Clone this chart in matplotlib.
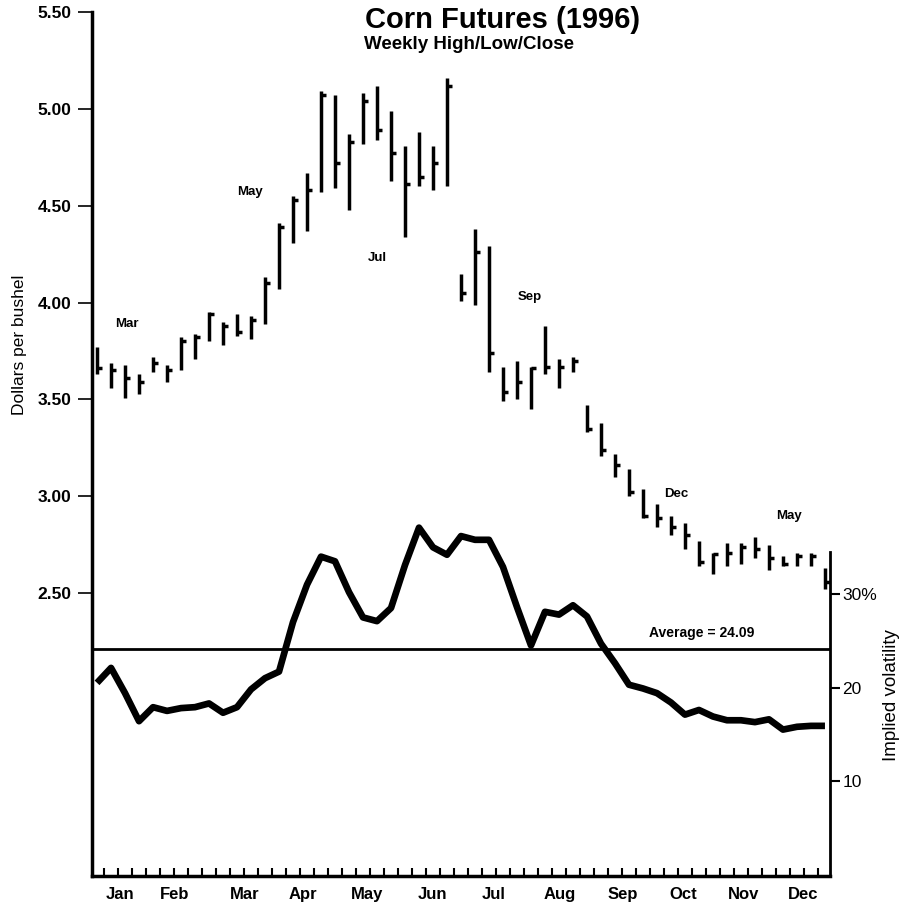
import numpy as np
import matplotlib
matplotlib.use("Agg")
import matplotlib.pyplot as plt

plt.rcParams['font.family'] = ['Liberation Sans', 'DejaVu Sans']

"""
Data
"""
# weekly high / low / close, dollars per bushel (53 weeks of 1996)
high = [3.77, 3.69, 3.68, 3.63, 3.72, 3.68, 3.82, 3.84, 3.95, 3.90,
        3.94, 3.93, 4.13, 4.41, 4.55, 4.67, 5.09, 5.07, 4.87, 5.08,
        5.12, 4.99, 4.81, 4.88, 4.81, 5.16, 4.15, 4.38, 4.29, 3.67,
        3.70, 3.67, 3.88, 3.71, 3.72, 3.47, 3.38, 3.22, 3.14, 3.04,
        2.96, 2.90, 2.86, 2.77, 2.71, 2.76, 2.76, 2.79, 2.75, 2.69,
        2.71, 2.71, 2.63]
low = [3.63, 3.56, 3.51, 3.53, 3.64, 3.59, 3.65, 3.71, 3.80, 3.78,
       3.83, 3.81, 3.89, 4.07, 4.31, 4.37, 4.57, 4.59, 4.48, 4.82,
       4.84, 4.63, 4.34, 4.60, 4.58, 4.60, 4.01, 3.99, 3.64, 3.49,
       3.50, 3.45, 3.63, 3.56, 3.64, 3.33, 3.21, 3.10, 3.00, 2.89,
       2.84, 2.80, 2.73, 2.64, 2.60, 2.64, 2.65, 2.68, 2.62, 2.64,
       2.64, 2.64, 2.52]
close = [3.66, 3.65, 3.61, 3.59, 3.69, 3.65, 3.80, 3.82, 3.94, 3.88,
         3.85, 3.91, 4.10, 4.39, 4.53, 4.58, 5.07, 4.72, 4.83, 5.04,
         4.89, 4.77, 4.61, 4.65, 4.72, 5.12, 4.05, 4.26, 3.74, 3.54,
         3.59, 3.66, 3.67, 3.67, 3.70, 3.35, 3.24, 3.16, 3.02, 2.90,
         2.89, 2.84, 2.80, 2.66, 2.70, 2.71, 2.74, 2.73, 2.68, 2.65,
         2.69, 2.69, 2.56]

# implied volatility, percent
vol = [20.5, 22.1, 19.4, 16.4, 17.9, 17.5, 17.8, 17.9, 18.3, 17.3,
       17.9, 19.8, 21.0, 21.7, 27.0, 31.0, 34.0, 33.5, 30.2, 27.5,
       27.1, 28.5, 33.1, 37.1, 35.0, 34.2, 36.2, 35.8, 35.8, 32.9,
       28.6, 24.5, 28.1, 27.8, 28.8, 27.6, 24.7, 22.6, 20.3, 19.9,
       19.4, 18.4, 17.1, 17.6, 16.9, 16.5, 16.5, 16.3, 16.6, 15.5,
       15.8, 15.9, 15.9]
vol_avg = 24.09

months = ["Jan", "Feb", "Mar", "Apr", "May", "Jun",
          "Jul", "Aug", "Sep", "Oct", "Nov", "Dec"]
month_pos = [1.64, 5.57, 10.57, 14.71, 19.29, 23.93,
             28.36, 33.07, 37.57, 41.86, 46.21, 50.43]

# contract month labels (week, price)
contracts = ["Mar", "May", "Jul", "Sep", "Dec", "May"]
contract_week = [2.1, 10.9, 20.0, 30.9, 41.4, 49.4]
contract_price = [3.89, 4.57, 4.23, 4.03, 3.01, 2.90]

weeks = np.arange(len(high))

"""
Plots
"""
fig = plt.figure(figsize=(9.01, 9.11), dpi=100)
ax = fig.add_axes([0.1021, 0.0384, 0.8191, 0.9484])
ax2 = ax.twinx()

ax.vlines(weeks, low, high, color="black", lw=2.5)
ax.hlines(close, weeks, weeks + 0.38, color="black", lw=2.5)

ax.set_xlim(-0.36, 52.36)
ax.set_ylim(1.04, 5.5)
ax.set_yticks([2.5, 3.0, 3.5, 4.0, 4.5, 5.0, 5.5])
ax.set_yticklabels(["2.50", "3.00", "3.50", "4.00", "4.50", "5.00", "5.50"],
                   fontsize=12.5, fontweight="bold")
ax.tick_params(axis="y", direction="out", length=10, width=1.2, pad=5)
ax.set_ylabel("Dollars per bushel", fontsize=12.5)
ax.yaxis.set_label_coords(-0.088, 0.615)

ax.set_xticks(weeks[:-1] + 0.5)
ax.set_xticks(month_pos, minor=True)
ax.set_xticklabels([])
ax.set_xticklabels(months, minor=True, fontsize=12, fontweight="bold")
ax.tick_params(axis="x", which="major", direction="in", length=6, width=1.5)
ax.tick_params(axis="x", which="minor", length=0, pad=8)

for s in ["top", "right"]:
    ax.spines[s].set_visible(False)
ax.spines["left"].set_linewidth(2.5)
ax.spines["bottom"].set_linewidth(2.5)

for t, w, p in zip(contracts, contract_week, contract_price):
    ax.text(w, p, t, fontsize=9.5, fontweight="bold", ha="center", va="center")

# volatility
ax2.plot(weeks, vol, color="black", lw=4.8, solid_joinstyle="round",
         solid_capstyle="butt")
ax2.axhline(vol_avg, color="black", lw=2)
ax2.text(43.2, vol_avg + 1.0, "Average = {:.2f}".format(vol_avg),
         fontsize=10, fontweight="bold", ha="center", va="bottom")
ax2.set_ylim(-0.16, 92.25)
ax2.set_yticks([10, 20, 30])
ax2.set_yticklabels(["10", "20", "30%"], fontsize=12.5)
ax2.tick_params(axis="y", direction="out", length=7, width=1.5, pad=2)
for s in ["top", "left", "bottom"]:
    ax2.spines[s].set_visible(False)
ax2.spines["right"].set_linewidth(2)
ax2.spines["right"].set_bounds(-0.16, 34.5)
ax2.set_ylabel("Implied volatility", fontsize=13.5)
ax2.yaxis.set_label_coords(1.072, 0.21)

fig.text(0.558, 0.978, "Corn Futures (1996)", fontsize=21, fontweight="bold",
         ha="center", va="center")
fig.text(0.52, 0.951, "Weekly High/Low/Close", fontsize=13.5, fontweight="bold",
         ha="center", va="center")

fig.savefig("out.png", dpi=100)
